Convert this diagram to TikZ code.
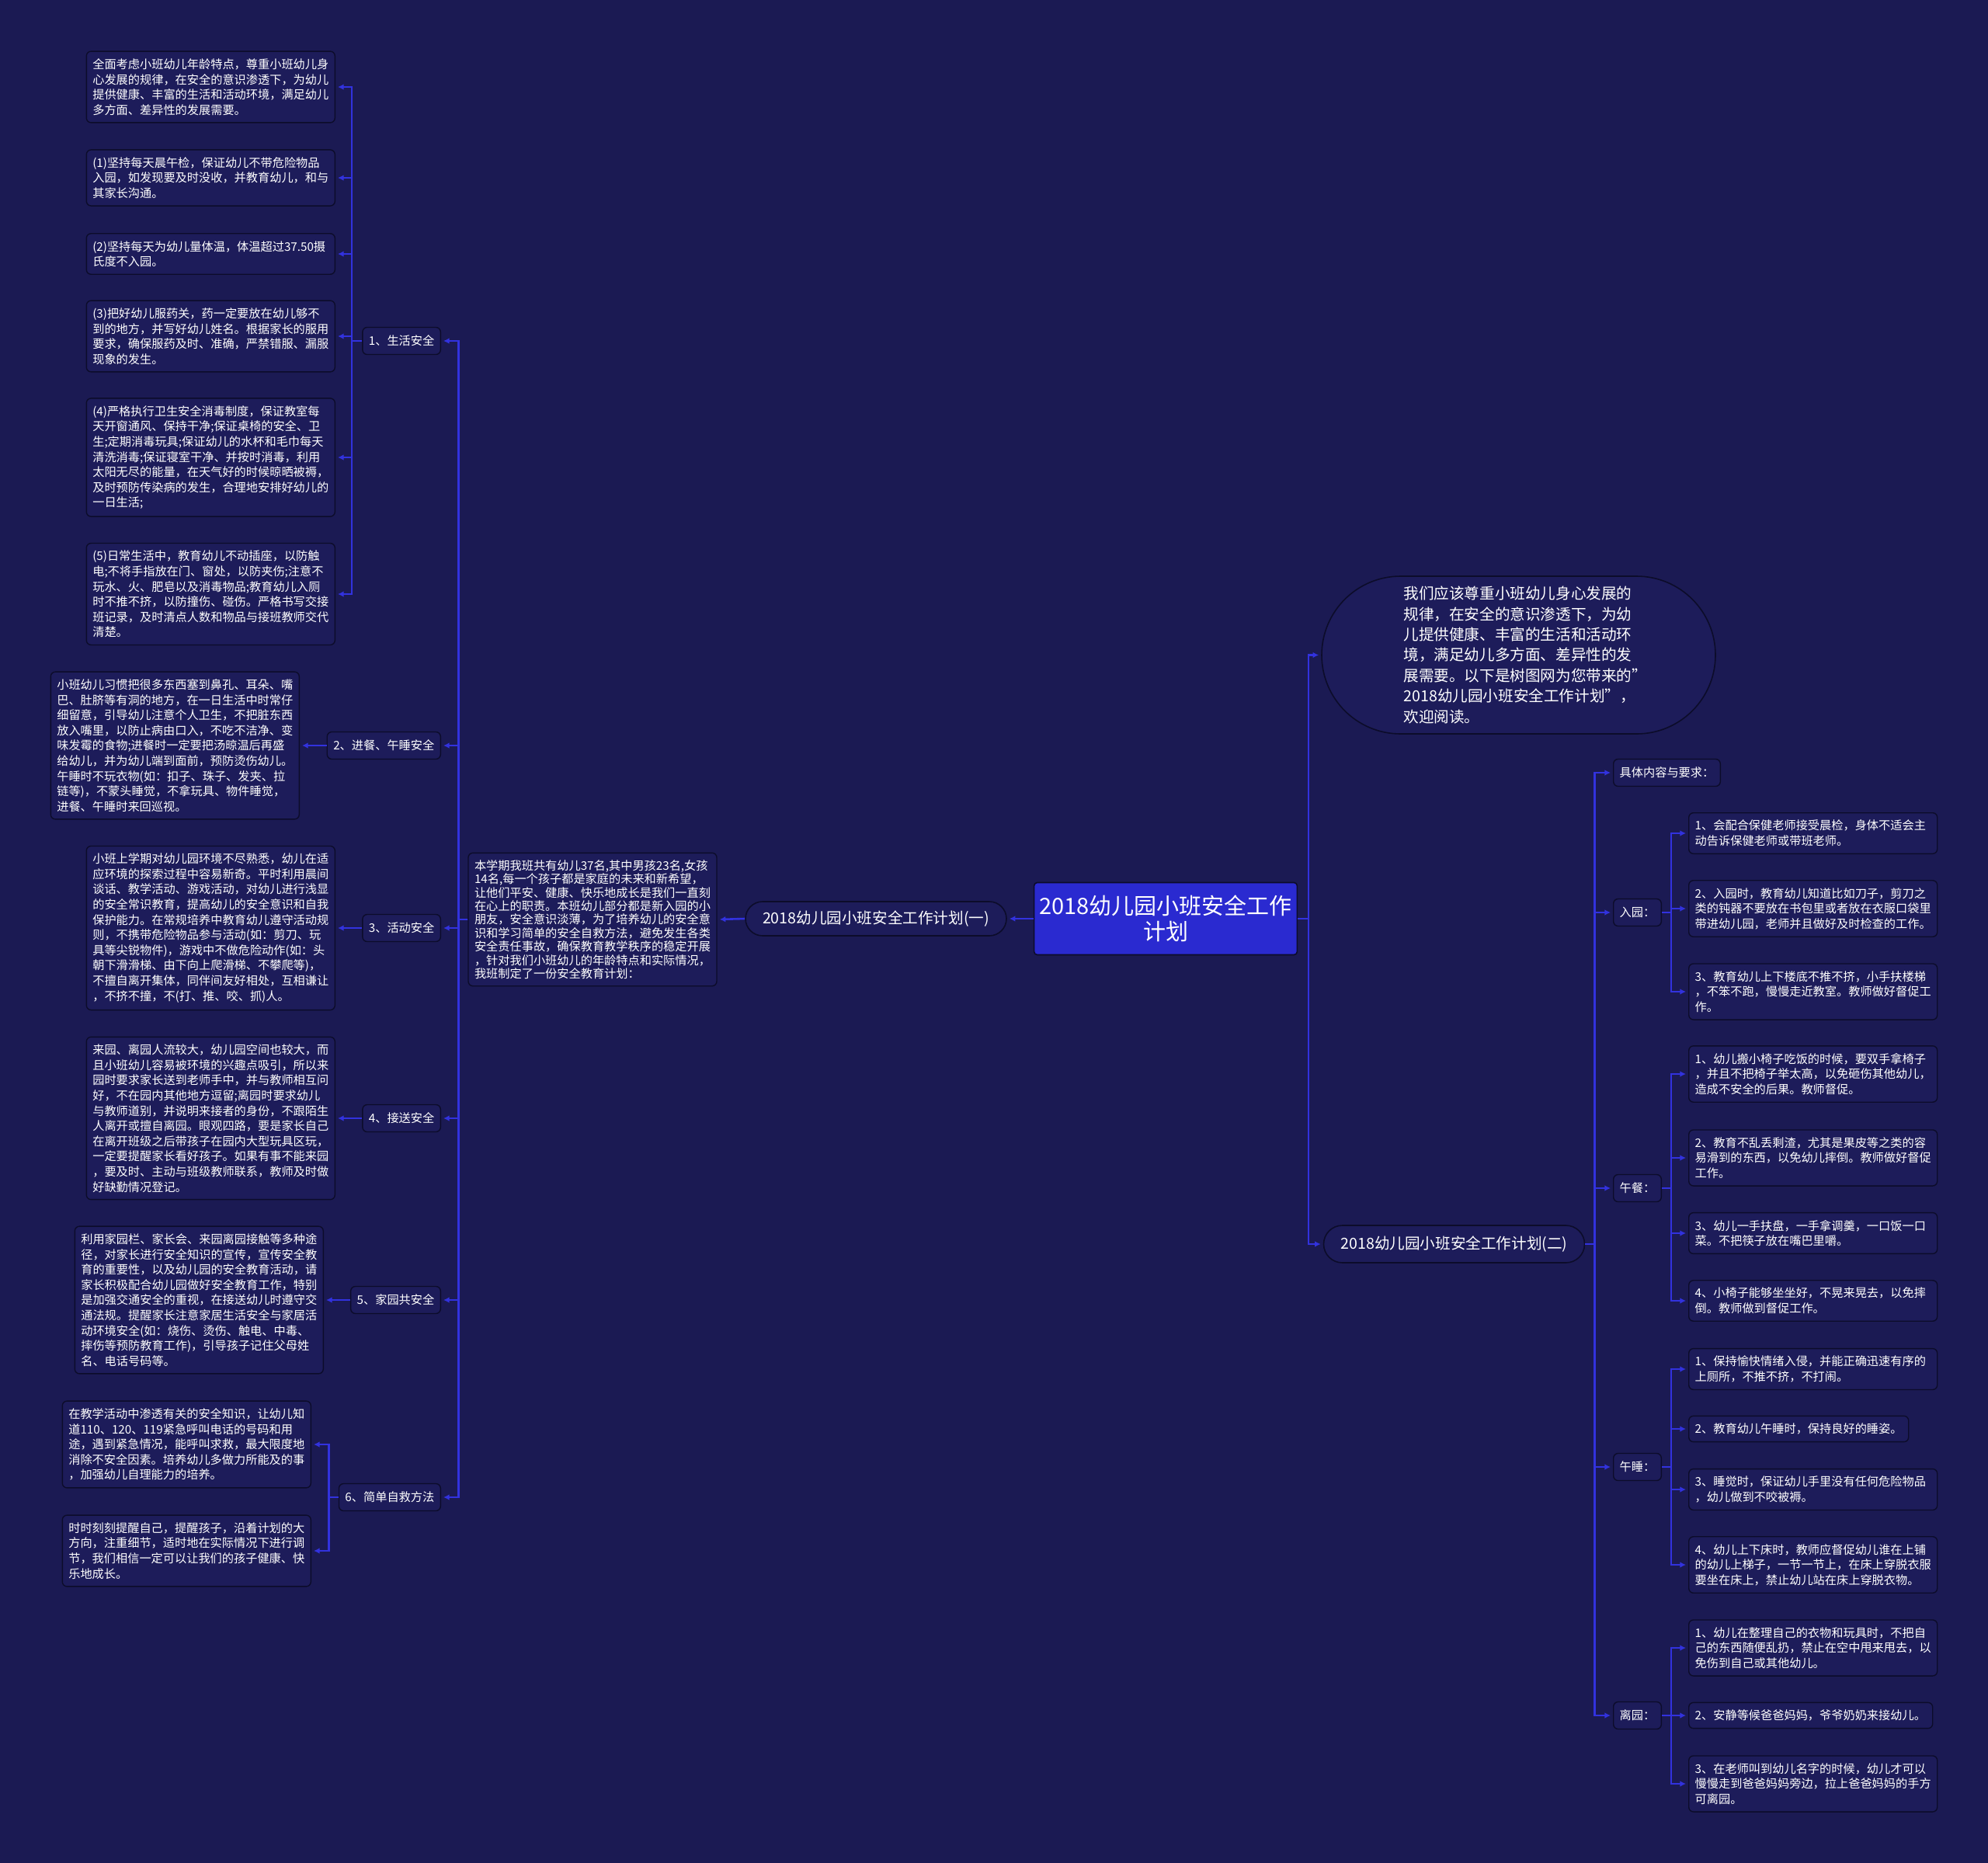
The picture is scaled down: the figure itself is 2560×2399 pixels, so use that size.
\documentclass[tikz,border=0pt]{standalone}
\usepackage{fontspec}
\setmainfont{Noto Sans CJK SC}
\usetikzlibrary{arrows.meta,shapes.misc}
\definecolor{bgnavy}{RGB}{27,26,83}
\definecolor{boxnavy}{RGB}{29,28,90}
\definecolor{edgedark}{RGB}{12,12,42}
\definecolor{linkblue}{RGB}{50,50,222}
\definecolor{rootblue}{RGB}{42,42,208}
\newcommand\leaffont{\fontsize{7.6pt}{9.8pt}\selectfont}
\newcommand\introfont{\fontsize{7.6pt}{8.7pt}\selectfont}
\newcommand\bubblefont{\fontsize{9.8pt}{13.2pt}\selectfont}
\newcommand\pillfont{\fontsize{9.8pt}{12pt}\selectfont}
\newcommand\rootfont{\fontsize{14.5pt}{16.7pt}\selectfont}
\tikzset{
  leafbox/.style={draw=edgedark, fill=boxnavy, line width=0.7pt, rounded corners=3pt, text=white, font=\leaffont, align=left, text width=152pt, inner xsep=4pt, inner ysep=4.7pt},
  tagbox/.style={draw=edgedark, fill=boxnavy, line width=0.7pt, rounded corners=3pt, text=white, font=\leaffont, inner xsep=4pt, minimum height=17.5pt},
  pill/.style={rounded rectangle, draw=edgedark, fill=boxnavy, line width=0.8pt, text=white, font=\pillfont, inner xsep=1pt, minimum width=170pt},
  rootbox/.style={draw=edgedark, fill=rootblue, line width=0.8pt, rounded corners=2pt, text=white, font=\rootfont, align=center, minimum width=165pt, minimum height=46.5pt},
  leadbox/.style={rounded rectangle, draw=edgedark, fill=boxnavy, line width=0.8pt, text=white, font=\bubblefont, align=left, text width=148pt, inner xsep=0pt, minimum width=253.5pt, minimum height=101.5pt},
  link/.style={draw=linkblue, line width=1.3pt, -{Latex[length=3.8pt,width=3.8pt]}, shorten >=1.5pt},
}
\begin{document}
\begin{tikzpicture}[x=0.5pt,y=-0.5pt]%2018 safety plan
\fill[bgnavy] (0,0) rectangle (2560,2399);
\useasboundingbox (0,0) rectangle (2560,2399);

\node[rootbox] (root) at (1501,1183) {2018幼儿园小班安全工作\\计划};
\node[pill, minimum height=22pt] (plan1) at (1128,1183) {2018幼儿园小班安全工作计划(一)};
\node[leafbox, font=\introfont, inner ysep=4.5pt] (intro) at (763,1184) {本学期我班共有幼儿37名,其中男孩23名,女孩\\14名,每一个孩子都是家庭的未来和新希望，\\让他们平安、健康、快乐地成长是我们一直刻\\在心上的职责。本班幼儿部分都是新入园的小\\朋友，安全意识淡薄，为了培养幼儿的安全意\\识和学习简单的安全自救方法，避免发生各类\\安全责任事故，确保教育教学秩序的稳定开展\\，针对我们小班幼儿的年龄特点和实际情况，\\我班制定了一份安全教育计划：};

\node[tagbox, anchor=east] (c1) at (568,439) {1、生活安全};
\node[tagbox, anchor=east] (c2) at (568,960) {2、进餐、午睡安全};
\node[tagbox, anchor=east] (c3) at (568,1195) {3、活动安全};
\node[tagbox, anchor=east] (c4) at (568,1440) {4、接送安全};
\node[tagbox, anchor=east] (c5) at (568,1674) {5、家园共安全};
\node[tagbox, anchor=east] (c6) at (568,1928) {6、简单自救方法};

\node[leafbox, anchor=east] (s1) at (432,112) {全面考虑小班幼儿年龄特点，尊重小班幼儿身\\心发展的规律，在安全的意识渗透下，为幼儿\\提供健康、丰富的生活和活动环境，满足幼儿\\多方面、差异性的发展需要。};
\node[leafbox, anchor=east] (s2) at (432,229) {(1)坚持每天晨午检，保证幼儿不带危险物品\\入园，如发现要及时没收，并教育幼儿，和与\\其家长沟通。};
\node[leafbox, anchor=east] (s3) at (432,327) {(2)坚持每天为幼儿量体温，体温超过37.50摄\\氏度不入园。};
\node[leafbox, anchor=east] (s4) at (432,433) {(3)把好幼儿服药关，药一定要放在幼儿够不\\到的地方，并写好幼儿姓名。根据家长的服用\\要求，确保服药及时、准确，严禁错服、漏服\\现象的发生。};
\node[leafbox, anchor=east] (s5) at (432,589) {(4)严格执行卫生安全消毒制度，保证教室每\\天开窗通风、保持干净;保证桌椅的安全、卫\\生;定期消毒玩具;保证幼儿的水杯和毛巾每天\\清洗消毒;保证寝室干净、并按时消毒，利用\\太阳无尽的能量，在天气好的时候晾晒被褥，\\及时预防传染病的发生，合理地安排好幼儿的\\一日生活;};
\node[leafbox, anchor=east] (s6) at (432,765) {(5)日常生活中，教育幼儿不动插座，以防触\\电;不将手指放在门、窗处，以防夹伤;注意不\\玩水、火、肥皂以及消毒物品;教育幼儿入厕\\时不推不挤，以防撞伤、碰伤。严格书写交接\\班记录，及时清点人数和物品与接班教师交代\\清楚。};
\node[leafbox, anchor=east] (s7) at (386,960) {小班幼儿习惯把很多东西塞到鼻孔、耳朵、嘴\\巴、肚脐等有洞的地方，在一日生活中时常仔\\细留意，引导幼儿注意个人卫生，不把脏东西\\放入嘴里，以防止病由口入，不吃不洁净、变\\味发霉的食物;进餐时一定要把汤晾温后再盛\\给幼儿，并为幼儿端到面前，预防烫伤幼儿。\\午睡时不玩衣物(如：扣子、珠子、发夹、拉\\链等)，不蒙头睡觉，不拿玩具、物件睡觉，\\进餐、午睡时来回巡视。};
\node[leafbox, anchor=east] (s8) at (432,1195) {小班上学期对幼儿园环境不尽熟悉，幼儿在适\\应环境的探索过程中容易新奇。平时利用晨间\\谈话、教学活动、游戏活动，对幼儿进行浅显\\的安全常识教育，提高幼儿的安全意识和自我\\保护能力。在常规培养中教育幼儿遵守活动规\\则，不携带危险物品参与活动(如：剪刀、玩\\具等尖锐物件)，游戏中不做危险动作(如：头\\朝下滑滑梯、由下向上爬滑梯、不攀爬等)，\\不擅自离开集体，同伴间友好相处，互相谦让\\，不挤不撞，不(打、推、咬、抓)人。};
\node[leafbox, anchor=east] (s9) at (432,1440) {来园、离园人流较大，幼儿园空间也较大，而\\且小班幼儿容易被环境的兴趣点吸引，所以来\\园时要求家长送到老师手中，并与教师相互问\\好，不在园内其他地方逗留;离园时要求幼儿\\与教师道别，并说明来接者的身份，不跟陌生\\人离开或擅自离园。眼观四路，要是家长自己\\在离开班级之后带孩子在园内大型玩具区玩，\\一定要提醒家长看好孩子。如果有事不能来园\\，要及时、主动与班级教师联系，教师及时做\\好缺勤情况登记。};
\node[leafbox, anchor=east] (s10) at (417,1674) {利用家园栏、家长会、来园离园接触等多种途\\径，对家长进行安全知识的宣传，宣传安全教\\育的重要性，以及幼儿园的安全教育活动，请\\家长积极配合幼儿园做好安全教育工作，特别\\是加强交通安全的重视，在接送幼儿时遵守交\\通法规。提醒家长注意家居生活安全与家居活\\动环境安全(如：烧伤、烫伤、触电、中毒、\\摔伤等预防教育工作)，引导孩子记住父母姓\\名、电话号码等。};
\node[leafbox, anchor=east] (s11) at (401,1860) {在教学活动中渗透有关的安全知识，让幼儿知\\道110、120、119紧急呼叫电话的号码和用\\途，遇到紧急情况，能呼叫求救，最大限度地\\消除不安全因素。培养幼儿多做力所能及的事\\，加强幼儿自理能力的培养。};
\node[leafbox, anchor=east] (s12) at (401,1997) {时时刻刻提醒自己，提醒孩子，沿着计划的大\\方向，注重细节，适时地在实际情况下进行调\\节，我们相信一定可以让我们的孩子健康、快\\乐地成长。};

\node[leadbox] (lead) at (1955.5,843.5) {我们应该尊重小班幼儿身心发展的\\规律，在安全的意识渗透下，为幼\\儿提供健康、丰富的生活和活动环\\境，满足幼儿多方面、差异性的发\\展需要。以下是树图网为您带来的"\\2018幼儿园小班安全工作计划"，\\欢迎阅读。};
\node[pill, minimum height=24pt] (plan2) at (1872.5,1602) {2018幼儿园小班安全工作计划(二)};

\node[tagbox, anchor=west] (k0) at (2077,995) {具体内容与要求：};
\node[tagbox, anchor=west] (k1) at (2077,1175) {入园：};
\node[tagbox, anchor=west] (k2) at (2077,1530) {午餐：};
\node[tagbox, anchor=west] (k3) at (2077,1889) {午睡：};
\node[tagbox, anchor=west] (k4) at (2077,2209) {离园：};

\node[leafbox, anchor=west] (r1) at (2174,1073) {1、会配合保健老师接受晨检，身体不适会主\\动告诉保健老师或带班老师。};
\node[leafbox, anchor=west] (r2) at (2174,1170) {2、入园时，教育幼儿知道比如刀子，剪刀之\\类的钝器不要放在书包里或者放在衣服口袋里\\带进幼儿园，老师并且做好及时检查的工作。};
\node[leafbox, anchor=west] (r3) at (2174,1277) {3、教育幼儿上下楼底不推不挤，小手扶楼梯\\，不笨不跑，慢慢走近教室。教师做好督促工\\作。};
\node[leafbox, anchor=west] (r4) at (2174,1383) {1、幼儿搬小椅子吃饭的时候，要双手拿椅子\\，并且不把椅子举太高，以免砸伤其他幼儿，\\造成不安全的后果。教师督促。};
\node[leafbox, anchor=west] (r5) at (2174,1491) {2、教育不乱丢剩渣，尤其是果皮等之类的容\\易滑到的东西，以免幼儿摔倒。教师做好督促\\工作。};
\node[leafbox, anchor=west] (r6) at (2174,1588) {3、幼儿一手扶盘，一手拿调羹，一口饭一口\\菜。不把筷子放在嘴巴里嚼。};
\node[leafbox, anchor=west] (r7) at (2174,1675) {4、小椅子能够坐坐好，不晃来晃去，以免摔\\倒。教师做到督促工作。};
\node[leafbox, anchor=west] (r8) at (2174,1763) {1、保持愉快情绪入侵，并能正确迅速有序的\\上厕所，不推不挤，不打闹。};
\node[leafbox, anchor=west, text width=133.5pt] (r9) at (2174,1840) {2、教育幼儿午睡时，保持良好的睡姿。};
\node[leafbox, anchor=west] (r10) at (2174,1918) {3、睡觉时，保证幼儿手里没有任何危险物品\\，幼儿做到不咬被褥。};
\node[leafbox, anchor=west] (r11) at (2174,2015) {4、幼儿上下床时，教师应督促幼儿谁在上铺\\的幼儿上梯子，一节一节上，在床上穿脱衣服\\要坐在床上，禁止幼儿站在床上穿脱衣物。};
\node[leafbox, anchor=west] (r12) at (2174,2122) {1、幼儿在整理自己的衣物和玩具时，不把自\\己的东西随便乱扔，禁止在空中甩来甩去，以\\免伤到自己或其他幼儿。};
\node[leafbox, anchor=west, text width=149pt] (r13) at (2174,2209) {2、安静等候爸爸妈妈，爷爷奶奶来接幼儿。};
\node[leafbox, anchor=west] (r14) at (2174,2297) {3、在老师叫到幼儿名字的时候，幼儿才可以\\慢慢走到爸爸妈妈旁边，拉上爸爸妈妈的手方\\可离园。};

\draw[link] (root.west) -- (plan1.east);
\draw[link] (plan1.west) -- (intro.east);
\foreach \c in {c1,c2,c3,c4,c5,c6} \draw[link] (intro.west) -- ++(-12,0) |- (\c.east);
\foreach \s in {s1,s2,s3,s4,s5,s6} \draw[link] (c1.west) -- ++(-13,0) |- (\s.east);
\draw[link] (c2.west) -- (s7.east);
\draw[link] (c3.west) -- (s8.east);
\draw[link] (c4.west) -- (s9.east);
\draw[link] (c5.west) -- (s10.east);
\foreach \s in {s11,s12} \draw[link] (c6.west) -- ++(-12,0) |- (\s.east);

\foreach \n in {lead,plan2} \draw[link] (root.east) -- ++(14,0) |- (\n.west);
\foreach \k in {k0,k1,k2,k3,k4} \draw[link] (plan2.east) -- ++(12,0) |- (\k.west);
\foreach \r in {r1,r2,r3} \draw[link] (k1.east) -- ++(12,0) |- (\r.west);
\foreach \r in {r4,r5,r6,r7} \draw[link] (k2.east) -- ++(12,0) |- (\r.west);
\foreach \r in {r8,r9,r10,r11} \draw[link] (k3.east) -- ++(12,0) |- (\r.west);
\foreach \r in {r12,r13,r14} \draw[link] (k4.east) -- ++(12,0) |- (\r.west);
\end{tikzpicture}
\end{document}
